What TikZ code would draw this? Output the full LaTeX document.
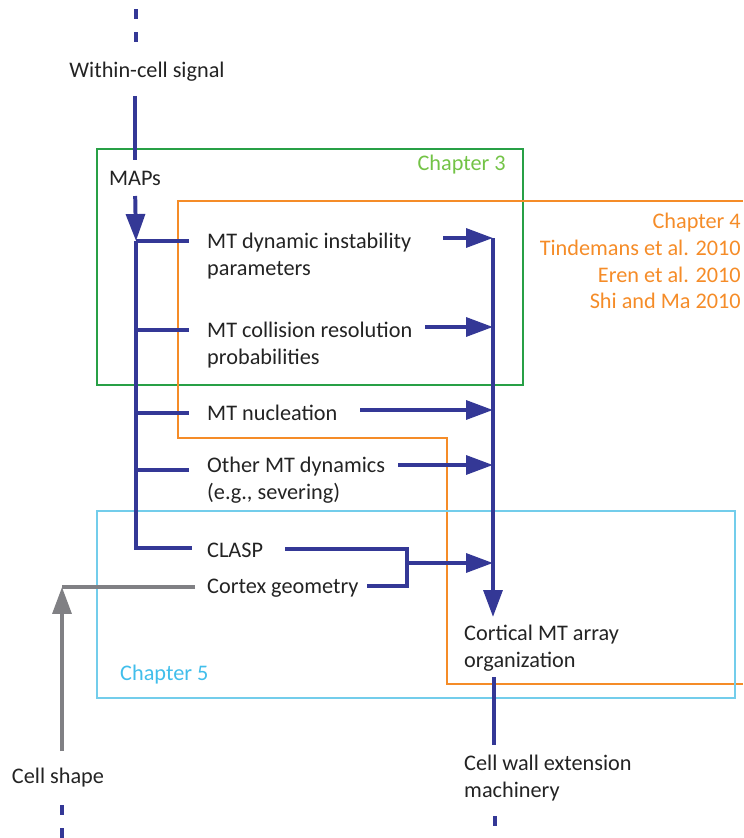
\documentclass[tikz,border=0pt]{standalone}
\usepackage{fontspec}
\setmainfont{Carlito}
\usetikzlibrary{arrows.meta, positioning}

\definecolor{sigblue}{RGB}{52,56,150}
\definecolor{shapegray}{RGB}{128,128,132}
\definecolor{chgreen}{RGB}{40,160,70}
\definecolor{chgreentext}{RGB}{115,195,70}
\definecolor{chorange}{RGB}{245,140,40}
\definecolor{chcyan}{RGB}{115,205,235}
\definecolor{chcyantext}{RGB}{65,190,235}
\definecolor{txt}{RGB}{35,35,35}

\begin{document}
\begin{tikzpicture}[x=0.03cm, y=-0.03cm,
    every node/.style={font=\fontsize{19}{22.8}\selectfont, text=txt, inner sep=0pt, align=left},
    flow/.style={sigblue, line width=3.4pt},
    flowarrow/.style={flow, -{Triangle[length=23pt, width=16pt]}},
    grayflow/.style={shapegray, line width=3.4pt},
    grayarrow/.style={grayflow, -{Triangle[length=23pt, width=16pt]}},
    dashes/.style={flow, dash pattern=on 8.5pt off 11.5pt},
    chbox/.style={line width=1.5pt}]
    \useasboundingbox (0,0) rectangle (743,838);

    % Chapter boxes
    \draw[chbox, chgreen] (97,149) rectangle (523,385);
    \draw[chbox, chorange] (743,201) -- (178,201) -- (178,438) -- (447,438) -- (447,684) -- (743,684);
    \draw[chbox, chcyan] (97,511) rectangle (735,698);
    \node[anchor=east, text=chgreentext] (ch3) at (506,165) {Chapter 3};
    \node[anchor=east, align=right, text=chorange] (ch4) at (741,261)
        {Chapter 4\\Tindemans et al. 2010\\Eren et al. 2010\\Shi and Ma 2010};
    \node[anchor=west, text=chcyantext] (ch5) at (120,675) {Chapter 5};

    % Signal and MAPs
    \node (sig) at (147,72) {Within-cell signal};
    \node (maps) at (135,178) {MAPs};
    \draw[dashes] (136,9) -- (136,43);
    \draw[flow, shorten <=12pt, shorten >=9pt] (sig.south -| maps) -- (maps.north);
    \coordinate (top) at (136,241);
    \draw[flowarrow, shorten <=9pt] (maps.south) -- (top);

    % Regulated processes
    \node[anchor=west] (dyn) at (207,256) {MT dynamic instability\\parameters};
    \node[anchor=west] (col) at (207,345) {MT collision resolution\\probabilities};
    \node[anchor=west] (nuc) at (207,413) {MT nucleation};
    \node[anchor=west] (oth) at (207,480) {Other MT dynamics\\(e.g., severing)};
    \node[anchor=west] (clasp) at (207,550) {CLASP};
    \node[anchor=west] (cortex) at (207,588) {Cortex geometry};

    % Trunk from MAPs
    \draw[flow] (top) -- (136,548) -- (192,548);
    \foreach \yy in {241,330,413,470}
        \draw[flow] (136,\yy) -- (189,\yy);

    % Arrows into the array
    \coordinate (join) at (493,238);
    \foreach \xs/\yy in {443/238, 425/327, 360/410, 398/465}
        \draw[flowarrow] (\xs,\yy) -- (493,\yy);
    \draw[flow] (285,549) -- (407,549) -- (407,586) -- (367,586);
    \draw[flowarrow] (407,563) -- (493,563);

    % Array and output
    \node[anchor=west] (cma) at (464,648) {Cortical MT array\\organization};
    \node[anchor=west] (cwe) at (464,778) {Cell wall extension\\machinery};
    \draw[flowarrow] (join) -- (493,617);
    \draw[flow] (494,677) -- (494,745);
    \draw[dashes] (495,816) -- (495,838);

    % Cell shape feedback
    \node (shape) at (58,778) {Cell shape};
    \coordinate (corner) at (62,587);
    \draw[grayflow] (195,587) -- (corner);
    \draw[grayarrow] (62,751) -- (corner);
    \draw[dashes] (62,805) -- (62,838);
\end{tikzpicture}
\end{document}
